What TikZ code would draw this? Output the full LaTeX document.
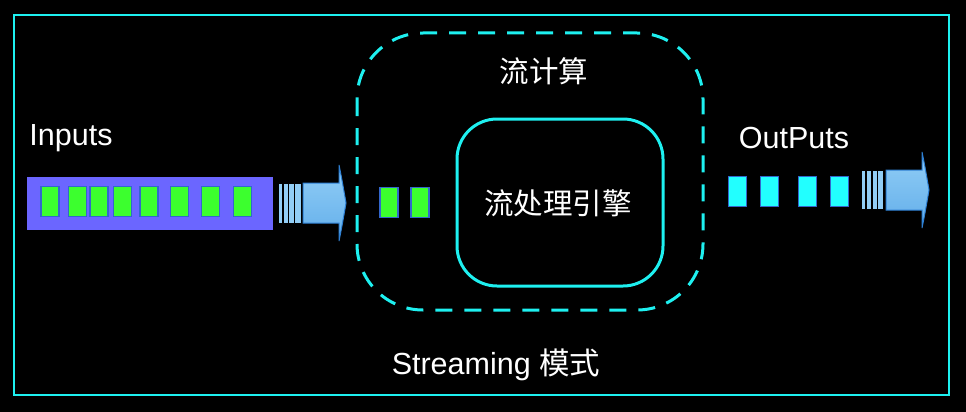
\documentclass[tikz,border=0pt]{standalone}
\usepackage{fontspec}
\setmainfont{Liberation Sans}
\newfontfamily\cjk{Noto Sans CJK SC}
\usetikzlibrary{shapes.geometric}
\definecolor{cyanL}{HTML}{1EF0F0}
\definecolor{purp}{HTML}{6B66FF}
\definecolor{grn}{HTML}{3CFF2E}
\definecolor{boxbd}{HTML}{3366CC}
\definecolor{cyb}{HTML}{22FFFF}
\definecolor{arrT}{HTML}{92CEF6}
\definecolor{arrB}{HTML}{62AEEA}
\definecolor{arrD}{HTML}{2E80D4}
\tikzset{
  gbox/.style={draw=boxbd, fill=grn, line width=1.5pt, inner sep=0pt, minimum width=18pt, minimum height=30pt},
  cbox/.style={draw=boxbd, fill=cyb, line width=1.5pt, inner sep=0pt, minimum width=18pt, minimum height=30pt},
  lbl/.style={text=white, inner sep=0pt, font=\fontsize{30.5}{33}\selectfont},
  clbl/.style={text=white, inner sep=0pt, font=\cjk\fontsize{29.5}{33}\selectfont},
  arrowbody/.style={draw=arrD, line width=1pt, top color=arrT, bottom color=arrB},
  stripe/.style={fill=arrT, draw=none},
}
\begin{document}
\begin{tikzpicture}[x=1pt,y=-1pt]
\fill[black] (0,0) rectangle (966,412);
\useasboundingbox (0,0) rectangle (966,412);
% outer frame
\draw[cyanL, line width=2pt] (14,15.5) rectangle (948.5,394.5);
% input bar
\node[fill=purp, inner sep=0pt, minimum width=246pt, minimum height=53pt] (inbar) at (150,203.5) {};
\foreach \x [count=\i] in {50,77.5,99,122.5,149,179.5,210.5,242.5}
  \node[gbox] (in\i) at (\x,201.5) {};
% left arrow
\foreach \a/\b in {279/282,283.5/287.5,289/293.5,295/301}
  \fill[arrT] (\a,184) rectangle (\b,223);
\draw[arrowbody] (303,183) -- (339,183) -- (339,165) .. controls (342,180) .. (346,203) .. controls (342,226) .. (339,241) -- (339,223) -- (303,223) -- cycle;
% middle boxes
\node[gbox] (m1) at (389,202.5) {};
\node[gbox] (m2) at (420,202.5) {};
% dashed region
\draw[cyanL, line width=3pt, dash pattern=on 17pt off 12pt, rounded corners=66pt] (357,33) rectangle (703,310);
\node[clbl] (title) at (544,71) {流计算};
% engine
\node[draw=cyanL, line width=3pt, rounded corners=40pt, minimum width=206pt, minimum height=167pt] (engine) at (560,202.5) {};
\node[clbl] (etext) at (558,203) {流处理引擎};
% output boxes
\foreach \x [count=\i] in {737.5,769.5,807.5,839.5}
  \node[cbox] (out\i) at (\x,191.5) {};
% right arrow
\foreach \a/\b in {862/865,867/871,872.5/876.5,878/883}
  \fill[arrT] (\a,171) rectangle (\b,209);
\draw[arrowbody] (886,170) -- (922,170) -- (922,152) .. controls (925,167) .. (929,190) .. controls (925,213) .. (922,228) -- (922,210) -- (886,210) -- cycle;
% labels
\node[lbl, anchor=base] (inputs) at (71,145) {Inputs};
\node[lbl, anchor=base] (outputs) at (794,148) {OutPuts};
\node[lbl, anchor=base] (mode) at (496,374) {Streaming {\cjk 模式}};
\end{tikzpicture}
\end{document}
